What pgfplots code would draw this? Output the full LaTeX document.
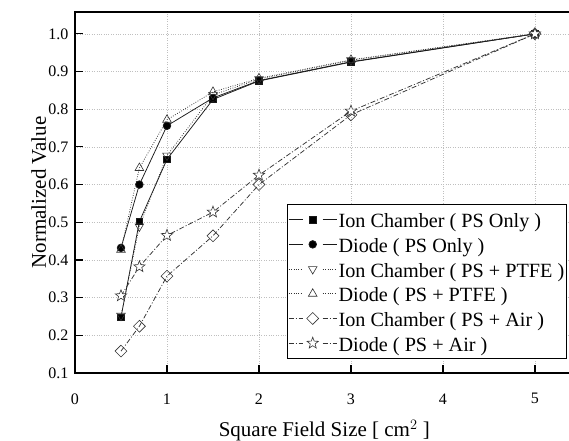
\documentclass[border=0pt]{standalone}
\usepackage{pgfplots}
\pgfplotsset{compat=1.18}
\usepackage{fontspec}
\setmainfont{Liberation Serif}
\usetikzlibrary{plotmarks}

% open five-pointed star like the reference
\pgfdeclareplotmark{ostar}{%
  \pgfpathmoveto{\pgfqpointpolar{90}{\pgfplotmarksize}}%
  \pgfpathlineto{\pgfqpointpolar{126}{0.42\pgfplotmarksize}}%
  \pgfpathlineto{\pgfqpointpolar{162}{\pgfplotmarksize}}%
  \pgfpathlineto{\pgfqpointpolar{198}{0.42\pgfplotmarksize}}%
  \pgfpathlineto{\pgfqpointpolar{234}{\pgfplotmarksize}}%
  \pgfpathlineto{\pgfqpointpolar{270}{0.42\pgfplotmarksize}}%
  \pgfpathlineto{\pgfqpointpolar{306}{\pgfplotmarksize}}%
  \pgfpathlineto{\pgfqpointpolar{342}{0.42\pgfplotmarksize}}%
  \pgfpathlineto{\pgfqpointpolar{18}{\pgfplotmarksize}}%
  \pgfpathlineto{\pgfqpointpolar{54}{0.42\pgfplotmarksize}}%
  \pgfpathclose
  \pgfusepathqfillstroke}

\tikzset{
  solidl/.style={line width=0.75bp,black!90},
  dotl/.style={line width=0.75bp,black!80,dash pattern=on 0.8bp off 1.6bp},
  dashdotl/.style={line width=0.75bp,black!80,dash pattern=on 5bp off 2bp on 1bp off 2bp},
}

\begin{document}
\begin{tikzpicture}
\begin{axis}[
  scale only axis,
  width=506bp, height=361bp,
  xmin=0, xmax=5.5, ymin=0.1, ymax=1.058,
  xtick={0,1,2,3,4,5},
  ytick={0.1,0.2,0.3,0.4,0.5,0.6,0.7,0.8,0.9,1.0},
  xtick pos=left, ytick pos=left,
  tick align=inside,
  major tick length=8bp,
  tick style={line width=1.2bp,black},
  axis line style={line width=1.3bp,black},
  grid=major,
  major grid style={dotted,line width=0.6bp,black!25},
  /pgf/number format/assume math mode=true,
  yticklabel style={/pgf/number format/fixed,/pgf/number format/fixed zerofill,/pgf/number format/precision=1,xshift=-3bp},
  tick label style={font=\fontsize{16bp}{18bp}\selectfont},
  xticklabel style={yshift=-17bp},
  xlabel={Square Field Size [ cm$^{2}$ ]},
  ylabel={Normalized Value},
  label style={font=\fontsize{21bp}{24bp}\selectfont},
  xlabel style={at={([yshift=-64bp]axis cs:2.71,0.1)},anchor=base,inner sep=0pt},
  ylabel style={at={([xshift=-29bp]rel axis cs:0,0.5)},anchor=base,inner sep=0pt},
  legend cell align=left,
  legend style={at={(axis cs:2.304,0.5485)},anchor=north west,
    draw=black,line width=0.8bp,fill=white,
    font=\fontsize{20.2bp}{22bp}\selectfont,
    nodes={text height=19bp,text depth=3bp,inner xsep=1.5bp,inner ysep=1bp},
    row sep=0.7bp,inner xsep=1bp,inner ysep=3.3bp},
  legend image code/.code={
    \draw[#1,mark=none] (0bp,0bp) -- (14bp,0bp);
    \draw[#1,mark=none] (34bp,0bp) -- (48bp,0bp);
    \draw[#1] plot coordinates {(24bp,0bp)};},
]
\addplot[solidl,mark=square*,mark size=3.3bp,mark options={solid,fill=black}] coordinates {
(0.5,0.248) (0.7,0.502) (1,0.667) (1.5,0.826) (2,0.875) (3,0.925) (5,1.0)};
\addplot[solidl,mark=*,mark size=3.8bp,mark options={solid,fill=black}] coordinates {
(0.5,0.432) (0.7,0.600) (1,0.756) (1.5,0.830) (2,0.876) (3,0.926) (5,1.0)};
\addplot[dotl,mark=triangle,mark size=5bp,mark options={solid,rotate=180,fill=white,line width=0.6bp}] coordinates {
(0.5,0.252) (0.7,0.489) (1,0.677) (1.5,0.838) (2,0.880) (3,0.930) (5,1.0)};
\addplot[dotl,mark=triangle,mark size=5bp,mark options={solid,fill=white,line width=0.6bp}] coordinates {
(0.5,0.427) (0.7,0.644) (1,0.772) (1.5,0.846) (2,0.882) (3,0.931) (5,1.0)};
\addplot[dashdotl,mark=square,mark size=4.2bp,mark options={solid,rotate=45,fill=white,line width=0.6bp}] coordinates {
(0.5,0.158) (0.7,0.224) (1,0.357) (1.5,0.464) (2,0.600) (3,0.785) (5,1.0)};
\addplot[dashdotl,mark=ostar,mark size=6bp,mark options={solid,fill=white,line width=0.6bp}] coordinates {
(0.5,0.305) (0.7,0.382) (1,0.465) (1.5,0.527) (2,0.625) (3,0.795) (5,1.0)};
\legend{Ion Chamber ( PS Only ),Diode ( PS Only ),Ion Chamber ( PS + PTFE ),Diode ( PS + PTFE ),Ion Chamber ( PS + Air ),Diode ( PS + Air )}
\coordinate (bl) at (rel axis cs:0,0);
\coordinate (tr) at (axis cs:5.37,1.058);
\end{axis}
\pgfresetboundingbox
\path ([shift={(-75bp,-68bp)}]bl) rectangle ([yshift=12bp]tr);
\end{tikzpicture}
\end{document}
